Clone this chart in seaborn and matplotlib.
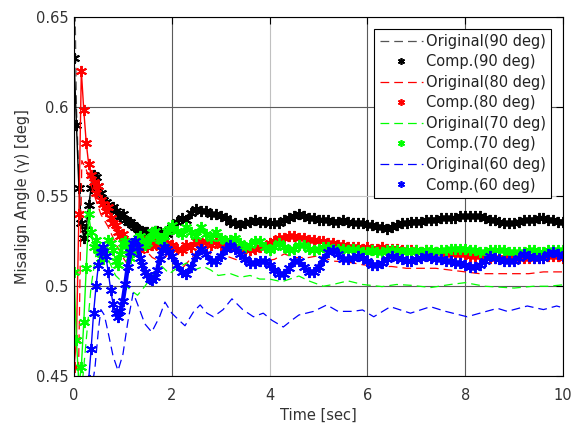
import numpy as np
import pandas as pd
import matplotlib
matplotlib.use("Agg")
import matplotlib.pyplot as plt
import seaborn as sns
from matplotlib.lines import Line2D

# ---------------- data ----------------
# common time grid for the compensated (marker) series
t_fine = np.round(np.arange(0.0, 2.0001, 0.05), 2)
t_coarse = np.round(np.arange(2.1, 10.0001, 0.1), 2)
t_comp = np.concatenate([t_fine, t_coarse])
t_comp60 = np.concatenate([np.round(np.arange(0.30, 2.0001, 0.05), 2), t_coarse])

comp90 = [0.627, 0.590, 0.555, 0.535, 0.527, 0.532, 0.545, 0.555, 0.562, 0.561,
          0.556, 0.552, 0.548, 0.547, 0.545, 0.543, 0.544, 0.542, 0.540, 0.539,
          0.540, 0.537, 0.536, 0.536, 0.534, 0.533, 0.532, 0.531, 0.531, 0.530,
          0.530, 0.529, 0.530, 0.531, 0.531, 0.530, 0.529, 0.528, 0.529, 0.531,
          0.533,
          0.536, 0.538, 0.537, 0.541, 0.543, 0.542, 0.542, 0.540, 0.540, 0.539,
          0.538, 0.536, 0.535, 0.534, 0.535, 0.536, 0.537, 0.536, 0.536, 0.535,
          0.535, 0.535, 0.537, 0.538, 0.539, 0.540, 0.539, 0.538, 0.538, 0.537,
          0.537, 0.537, 0.536, 0.536, 0.537, 0.536, 0.535, 0.535, 0.535, 0.534,
          0.534, 0.533, 0.533, 0.532, 0.533, 0.534, 0.535, 0.535, 0.536, 0.536,
          0.536, 0.537, 0.537, 0.537, 0.538, 0.538, 0.538, 0.538, 0.539, 0.539,
          0.539, 0.539, 0.539, 0.538, 0.537, 0.537, 0.536, 0.535, 0.535, 0.535,
          0.536, 0.537, 0.537, 0.537, 0.538, 0.538, 0.537, 0.537, 0.536, 0.536]

comp80 = [0.455, 0.470, 0.540, 0.620, 0.598, 0.580, 0.568, 0.562, 0.558, 0.552,
          0.556, 0.548, 0.546, 0.542, 0.544, 0.538, 0.535, 0.534, 0.530, 0.528,
          0.529, 0.525, 0.524, 0.522, 0.521, 0.523, 0.522, 0.520, 0.524, 0.525,
          0.522, 0.526, 0.523, 0.524, 0.526, 0.522, 0.525, 0.522, 0.524, 0.521,
          0.523,
          0.521, 0.520, 0.523, 0.522, 0.525, 0.523, 0.525, 0.523, 0.525, 0.523,
          0.524, 0.522, 0.522, 0.521, 0.521, 0.520, 0.521, 0.522, 0.522, 0.524,
          0.525, 0.527, 0.527, 0.528, 0.528, 0.527, 0.527, 0.526, 0.526, 0.525,
          0.525, 0.524, 0.524, 0.523, 0.523, 0.522, 0.522, 0.522, 0.521, 0.522,
          0.521, 0.521, 0.522, 0.521, 0.521, 0.521, 0.520, 0.520, 0.520, 0.520,
          0.519, 0.520, 0.519, 0.519, 0.519, 0.518, 0.518, 0.518, 0.518, 0.518,
          0.517, 0.517, 0.517, 0.517, 0.516, 0.516, 0.516, 0.516, 0.516, 0.516,
          0.516, 0.516, 0.516, 0.516, 0.516, 0.516, 0.517, 0.517, 0.517, 0.516]

comp70 = [0.508, 0.470, 0.445, 0.455, 0.480, 0.510, 0.540, 0.530, 0.522, 0.526,
          0.520, 0.516, 0.515, 0.520, 0.526, 0.524, 0.520, 0.514, 0.512, 0.518,
          0.524, 0.525, 0.520, 0.516, 0.519, 0.524, 0.527, 0.528, 0.526, 0.523,
          0.524, 0.527, 0.530, 0.531, 0.528, 0.526, 0.525, 0.528, 0.531, 0.532,
          0.534,
          0.531, 0.529, 0.533, 0.530, 0.528, 0.533, 0.529, 0.527, 0.530, 0.527,
          0.525, 0.526, 0.527, 0.524, 0.522, 0.523, 0.525, 0.525, 0.522, 0.520,
          0.522, 0.524, 0.522, 0.520, 0.521, 0.523, 0.523, 0.521, 0.520, 0.521,
          0.522, 0.522, 0.521, 0.521, 0.521, 0.520, 0.521, 0.520, 0.519, 0.519,
          0.520, 0.519, 0.519, 0.520, 0.520, 0.520, 0.519, 0.520, 0.519, 0.520,
          0.519, 0.520, 0.520, 0.519, 0.520, 0.520, 0.521, 0.521, 0.521, 0.521,
          0.520, 0.520, 0.519, 0.519, 0.520, 0.520, 0.520, 0.520, 0.519, 0.519,
          0.519, 0.519, 0.520, 0.520, 0.519, 0.519, 0.520, 0.520, 0.520, 0.520]

comp60 = [0.448, 0.465, 0.485, 0.500, 0.512, 0.519, 0.522, 0.517, 0.508, 0.498,
          0.490, 0.485, 0.483, 0.486, 0.492, 0.501, 0.511, 0.519, 0.524, 0.525,
          0.522, 0.516, 0.512, 0.508, 0.506, 0.504, 0.5035, 0.505, 0.509, 0.515,
          0.520, 0.522, 0.521, 0.519, 0.517,
          0.512, 0.508, 0.507, 0.511, 0.517, 0.521, 0.518, 0.514, 0.514, 0.517,
          0.521, 0.523, 0.521, 0.518, 0.515, 0.513, 0.513, 0.514, 0.514, 0.512,
          0.509, 0.507, 0.507, 0.510, 0.514, 0.514, 0.511, 0.508, 0.508, 0.511,
          0.515, 0.519, 0.520, 0.518, 0.515, 0.515, 0.516, 0.517, 0.516, 0.514,
          0.512, 0.512, 0.513, 0.515, 0.517, 0.516, 0.515, 0.514, 0.514, 0.515,
          0.516, 0.517, 0.516, 0.515, 0.515, 0.514, 0.514, 0.513, 0.513, 0.512,
          0.511, 0.511, 0.512, 0.514, 0.517, 0.516, 0.515, 0.514, 0.514, 0.514,
          0.516, 0.518, 0.517, 0.516, 0.516, 0.516, 0.518, 0.519, 0.518, 0.517]

# original (dashed) series, each with its own time points
t_orig90 = [0.0, 0.02, 0.05, 0.1, 0.15, 0.2, 0.3, 0.4, 0.5, 0.7,
            0.9, 1.1, 1.3, 1.5, 1.8, 2.1, 2.5, 3.0, 3.5, 4.0,
            4.5, 5.0, 6.0, 6.5, 7.0, 8.0, 9.0, 10.0]
orig90 = [0.72, 0.66, 0.60, 0.56, 0.532, 0.53, 0.545, 0.558, 0.553, 0.545,
          0.540, 0.536, 0.532, 0.530, 0.529, 0.536, 0.542, 0.539, 0.535, 0.535,
          0.539, 0.537, 0.534, 0.533, 0.536, 0.539, 0.535, 0.536]

t_orig80 = [0.08, 0.12, 0.16, 0.25, 0.4, 0.55, 0.7, 0.85, 1.0, 1.1,
            1.25, 1.4, 1.6, 1.75, 1.9, 2.1, 2.25, 2.5, 2.7, 2.9,
            3.1, 3.4, 3.7, 3.9, 4.1, 4.3, 4.5, 4.8, 5.0, 5.3,
            5.6, 5.9, 6.2, 6.5, 6.8, 7.1, 7.4, 7.7, 8.0, 8.3,
            8.7, 9.0, 9.3, 9.6, 10.0]
orig80 = [0.43, 0.50, 0.57, 0.565, 0.552, 0.540, 0.533, 0.524, 0.516, 0.512,
          0.518, 0.522, 0.516, 0.514, 0.517, 0.513, 0.511, 0.519, 0.520, 0.516,
          0.517, 0.514, 0.515, 0.514, 0.515, 0.518, 0.516, 0.516, 0.517, 0.514,
          0.5135, 0.512, 0.511, 0.511, 0.510, 0.510, 0.510, 0.509, 0.508, 0.507,
          0.507, 0.507, 0.507, 0.508, 0.508]

t_orig70 = [0.15, 0.25, 0.35, 0.45, 0.55, 0.7, 0.85, 1.0, 1.15, 1.3,
            1.45, 1.6, 1.8, 1.95, 2.1, 2.3, 2.45, 2.65, 2.8, 2.95,
            3.2, 3.4, 3.6, 3.8, 4.0, 4.25, 4.6, 4.8, 5.1, 5.3,
            5.6, 5.9, 6.3, 6.6, 6.9, 7.3, 7.7, 8.0, 8.4, 8.7,
            9.0, 9.4, 9.7, 10.0]
orig70 = [0.44, 0.47, 0.500, 0.518, 0.522, 0.515, 0.506, 0.502, 0.498, 0.495,
          0.500, 0.506, 0.511, 0.507, 0.510, 0.513, 0.509, 0.511, 0.509, 0.506,
          0.507, 0.505, 0.506, 0.504, 0.504, 0.5025, 0.5057, 0.503, 0.500, 0.501,
          0.503, 0.501, 0.4998, 0.501, 0.5005, 0.4993, 0.501, 0.502, 0.500, 0.4995,
          0.499, 0.500, 0.500, 0.5008]

t_orig60 = [0.35, 0.43, 0.5, 0.55, 0.62, 0.7, 0.8, 0.9, 1.0, 1.1,
            1.21, 1.3, 1.45, 1.59, 1.75, 1.86, 2.0, 2.15, 2.27, 2.45,
            2.58, 2.72, 2.85, 3.05, 3.23, 3.45, 3.67, 3.87, 4.05, 4.28,
            4.45, 4.6, 4.9, 5.17, 5.4, 5.7, 5.9, 6.13, 6.47, 6.88,
            7.29, 7.6, 8.04, 8.3, 8.66, 8.86, 9.27, 9.6, 9.87, 10.0]
orig60 = [0.44, 0.455, 0.476, 0.487, 0.484, 0.474, 0.461, 0.453, 0.462, 0.480,
          0.4963, 0.490, 0.479, 0.4745, 0.483, 0.4912, 0.485, 0.481, 0.478, 0.486,
          0.4896, 0.485, 0.483, 0.487, 0.493, 0.487, 0.483, 0.485, 0.481, 0.4773,
          0.481, 0.484, 0.486, 0.4896, 0.486, 0.486, 0.4868, 0.483, 0.4886, 0.485,
          0.4886, 0.486, 0.483, 0.485, 0.4877, 0.486, 0.489, 0.487, 0.489, 0.488]

labels = ["Original(90 deg)", "Comp.(90 deg)", "Original(80 deg)", "Comp.(80 deg)",
          "Original(70 deg)", "Comp.(70 deg)", "Original(60 deg)", "Comp.(60 deg)"]
colors = ["#555555", "#000000", "#ff0000", "#ff0000",
          "#00ff00", "#00ff00", "#0000ff", "#0000ff"]
xticks = [0, 2, 4, 6, 8, 10]
yticks = [0.45, 0.5, 0.55, 0.6, 0.65]

series = [(t_orig90, orig90), (t_comp, comp90), (t_orig80, orig80), (t_comp, comp80),
          (t_orig70, orig70), (t_comp, comp70), (t_orig60, orig60), (t_comp60, comp60)]

# ---------------- plot ----------------
sns.set_style("white")
plt.rcParams["font.family"] = ["DejaVu Sans"]
FS = 10.5

fig = plt.figure(figsize=(5.79, 4.23), dpi=100)
ax = fig.add_axes([74 / 579, 1 - 376 / 423, 489 / 579, 359 / 423])

DASH = (0, (7, 4))
STAR = (6, 2, 0)
for i, ((tt, vv), lab, c) in enumerate(zip(series, labels, colors)):
    df = pd.DataFrame({"t": tt, "v": vv})
    if i % 2 == 0:
        sns.lineplot(data=df, x="t", y="v", ax=ax, color=c, linewidth=0.9,
                     linestyle=DASH, sort=False, estimator=None)
    else:
        # dense band once the response has settled
        settled = df[df["t"] >= 0.9]
        sns.lineplot(data=settled, x="t", y="v", ax=ax, color=c, linewidth=3.2,
                     sort=False, estimator=None)
        sns.lineplot(data=df, x="t", y="v", ax=ax, color=c, linewidth=1.0,
                     marker=STAR, markersize=8, markeredgewidth=1.4,
                     markeredgecolor=c, sort=False, estimator=None)

ax.set_xlim(0, 10)
ax.set_ylim(0.45, 0.65)
ax.set_xticks(xticks)
ax.set_yticks(yticks)
ax.set_xticklabels([f"{v:g}" for v in xticks])
ax.set_yticklabels([f"{v:g}" for v in yticks])
ax.set_xlabel("Time [sec]", fontsize=FS, labelpad=3, color="#333333")
ax.set_ylabel("Misalign Angle (\u03b3) [deg]", fontsize=FS, labelpad=4, color="#333333")

ax.grid(True, color="#5a5a5a", linewidth=0.8)
ax.set_axisbelow(True)
for i, gl in enumerate(ax.yaxis.get_gridlines()):
    if i == 2:
        gl.set_color("#c8c8c8")
for i, gl in enumerate(ax.xaxis.get_gridlines()):
    if i == 2:
        gl.set_color("#c0c0c0")

ax.tick_params(direction="in", top=True, right=True, length=5, width=0.8,
               labelsize=FS, colors="black", labelcolor="#333333")
ax.tick_params(axis="x", pad=9)
ax.tick_params(axis="y", pad=4)
for sp in ax.spines.values():
    sp.set_color("black")
    sp.set_linewidth(0.8)

handles = []
for i, c in enumerate(colors):
    if i % 2 == 0:
        handles.append(Line2D([], [], color=c, lw=0.9, ls=DASH))
    else:
        handles.append(Line2D([], [], color=c, ls="none", marker=STAR,
                              markersize=5, markeredgewidth=1.2))
leg = ax.legend(handles, labels, loc="upper right", fontsize=FS, frameon=True,
                fancybox=False, edgecolor="black", framealpha=1,
                borderaxespad=0.8, handlelength=3.0, handletextpad=0.2,
                labelspacing=0.38, borderpad=0.35, numpoints=1)
leg.get_frame().set_linewidth(0.8)
for txt in leg.get_texts():
    txt.set_color("#222222")

fig.savefig("out.png", dpi=100)
